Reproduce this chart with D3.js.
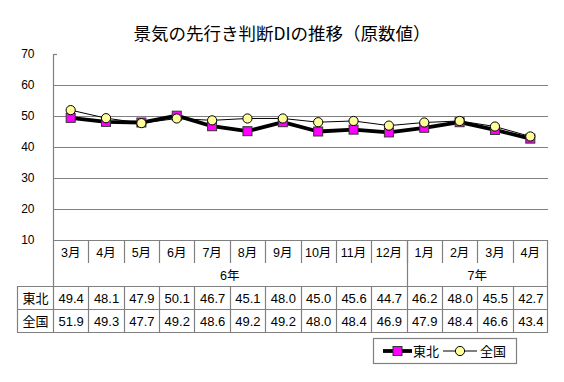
<!DOCTYPE html>
<html><head><meta charset="utf-8">
<script src="https://cdn.jsdelivr.net/npm/d3@7/dist/d3.min.js"></script>
<style>
body{margin:0;background:#fff;}
svg text{font-family:"Liberation Sans","Noto Sans CJK JP",sans-serif;fill:#000;}
</style></head>
<body><svg id="c" width="564" height="382"></svg>
<script>
const title = "景気の先行き判断DIの推移（原数値）";
const months = ["3月","4月","5月","6月","7月","8月","9月","10月","11月","12月","1月","2月","3月","4月"];
const yearLabels = ["6年","7年"];
const yearSpans = [10,4];
const seriesNames = ["東北","全国"];
const tohoku = [49.4,48.1,47.9,50.1,46.7,45.1,48.0,45.0,45.6,44.7,46.2,48.0,45.5,42.7];
const zenkoku = [51.9,49.3,47.7,49.2,48.6,49.2,49.2,48.0,48.4,46.9,47.9,48.4,46.6,43.4];
const yTicks = [10,20,30,40,50,60,70];

const svg = d3.select("#c");
const L = 53, R = 548, T = 54, B = 240;
const tableLeft = 17;
const rowH = 23;
const grid = "#808080";

const x = d3.scaleBand().domain(months.map((m,i)=>i)).range([L,R]).padding(0);
const y = d3.scaleLinear().domain([10,70]).range([B,T]);

// title
svg.append("text").attr("x",282).attr("y",40).attr("text-anchor","middle")
  .style("font-family","'Noto Sans CJK JP',sans-serif").style("font-size","17.5px").text(title);

// gridlines
svg.append("g").selectAll("line").data(yTicks.filter(v=>v>10 && v<70)).join("line")
  .attr("x1",L).attr("x2",R).attr("y1",d=>Math.round(y(d))+0.5).attr("y2",d=>Math.round(y(d))+0.5)
  .attr("stroke",grid).attr("stroke-width",1.2);

// y axis
const yAxis = d3.axisLeft(y).tickValues(yTicks).tickSize(0).tickPadding(19);
const ga = svg.append("g").attr("transform",`translate(${L+0.5},0)`).call(yAxis);
ga.select(".domain").remove();
ga.selectAll("text").style("font-size","12px").style("font-family","'Liberation Sans',sans-serif");
svg.append("line").attr("x1",L+0.5).attr("x2",L+0.5).attr("y1",T).attr("y2",B+4*rowH).attr("stroke",grid).attr("stroke-width",1.2);
svg.append("line").attr("x1",L).attr("x2",L+4).attr("y1",Math.round(y(70))+0.5).attr("y2",Math.round(y(70))+0.5).attr("stroke",grid).attr("stroke-width",1.2);

// table
const tg = svg.append("g");
const tl = (x1,y1,x2,y2)=>tg.append("line").attr("x1",x1).attr("y1",y1).attr("x2",x2).attr("y2",y2).attr("stroke",grid).attr("stroke-width",1.2);
tl(L,B+0.5,R,B+0.5);
months.forEach((m,i)=>{ if(i>0) tl(Math.round(x(i))+0.5,B,Math.round(x(i))+0.5,B+rowH); });
tl(R-0.5,B,R-0.5,B+4*rowH);
let acc = 0;
yearSpans.forEach((s,k)=>{ acc+=s; if(k<yearSpans.length-1){ const xx=Math.round(x(acc))+0.5; tl(xx,B,xx,B+2*rowH);} });
[2,3,4].forEach(r=>tl(tableLeft,B+r*rowH+0.5,R,B+r*rowH+0.5));
tl(tableLeft+0.5,B+2*rowH,tableLeft+0.5,B+4*rowH);
months.forEach((m,i)=>{ if(i>0) tl(Math.round(x(i))+0.5,B+2*rowH,Math.round(x(i))+0.5,B+4*rowH); });

tg.selectAll("text.m").data(months).join("text").attr("class","m")
  .attr("x",(d,i)=>x(i)+x.bandwidth()/2).attr("y",B+rowH/2+5).attr("text-anchor","middle")
  .style("font-size","12.5px").text(d=>d);
acc = 0;
yearLabels.forEach((lab,k)=>{
  const x0 = x(acc), x1 = acc+yearSpans[k] < months.length ? x(acc+yearSpans[k]) : R;
  tg.append("text").attr("x",(x0+x1)/2).attr("y",B+rowH*1.5+5).attr("text-anchor","middle").style("font-size","12.5px").text(lab);
  acc += yearSpans[k];
});
[tohoku,zenkoku].forEach((arr,r)=>{
  const cy = B+rowH*(2.5+r)+5;
  tg.append("text").attr("x",(tableLeft+L)/2+0.5).attr("y",cy).attr("text-anchor","middle")
    .style("font-family","'Noto Sans CJK JP',sans-serif").style("font-size","13px").text(seriesNames[r]);
  tg.selectAll("text.v"+r).data(arr).join("text").attr("class","v"+r)
    .attr("x",(d,i)=>x(i)+x.bandwidth()/2+0.5).attr("y",cy).attr("text-anchor","middle")
    .style("font-size","13px").text(d=>d.toFixed(1));
});

const line = d3.line().x((d,i)=>x(i)+x.bandwidth()/2).y(d=>y(d));
svg.append("path").datum(tohoku).attr("d",line).attr("fill","none").attr("stroke","#000").attr("stroke-width",3.8).attr("stroke-linejoin","round");
svg.append("g").selectAll("rect").data(tohoku).join("rect")
  .attr("x",(d,i)=>x(i)+x.bandwidth()/2-4.5).attr("y",d=>y(d)-4.5).attr("width",9).attr("height",9)
  .attr("fill","#FF00FF").attr("stroke","#333").attr("stroke-width",1);
svg.append("path").datum(zenkoku).attr("d",line).attr("fill","none").attr("stroke","#000").attr("stroke-width",1);
svg.append("g").selectAll("circle").data(zenkoku).join("circle")
  .attr("cx",(d,i)=>x(i)+x.bandwidth()/2).attr("cy",d=>y(d)).attr("r",4.6)
  .attr("fill","#FFFF99").attr("stroke","#000").attr("stroke-width",1);

const lg = svg.append("g");
lg.append("rect").attr("x",373.5).attr("y",338.5).attr("width",143).attr("height",25).attr("fill","#fff").attr("stroke",grid).attr("stroke-width",1.2);
const ly = 351;
lg.append("line").attr("x1",383).attr("x2",412).attr("y1",ly).attr("y2",ly).attr("stroke","#000").attr("stroke-width",3.8);
lg.append("rect").attr("x",393).attr("y",ly-4.5).attr("width",9).attr("height",9).attr("fill","#FF00FF").attr("stroke","#333");
lg.append("text").attr("x",413).attr("y",ly+5).style("font-family","'Noto Sans CJK JP',sans-serif").style("font-size","13px").text(seriesNames[0]);
lg.append("line").attr("x1",443).attr("x2",477).attr("y1",ly).attr("y2",ly).attr("stroke","#000").attr("stroke-width",1);
lg.append("circle").attr("cx",460).attr("cy",ly).attr("r",4.6).attr("fill","#FFFF99").attr("stroke","#000");
lg.append("text").attr("x",480).attr("y",ly+5).style("font-family","'Noto Sans CJK JP',sans-serif").style("font-size","13px").text(seriesNames[1]);
</script></body></html>
